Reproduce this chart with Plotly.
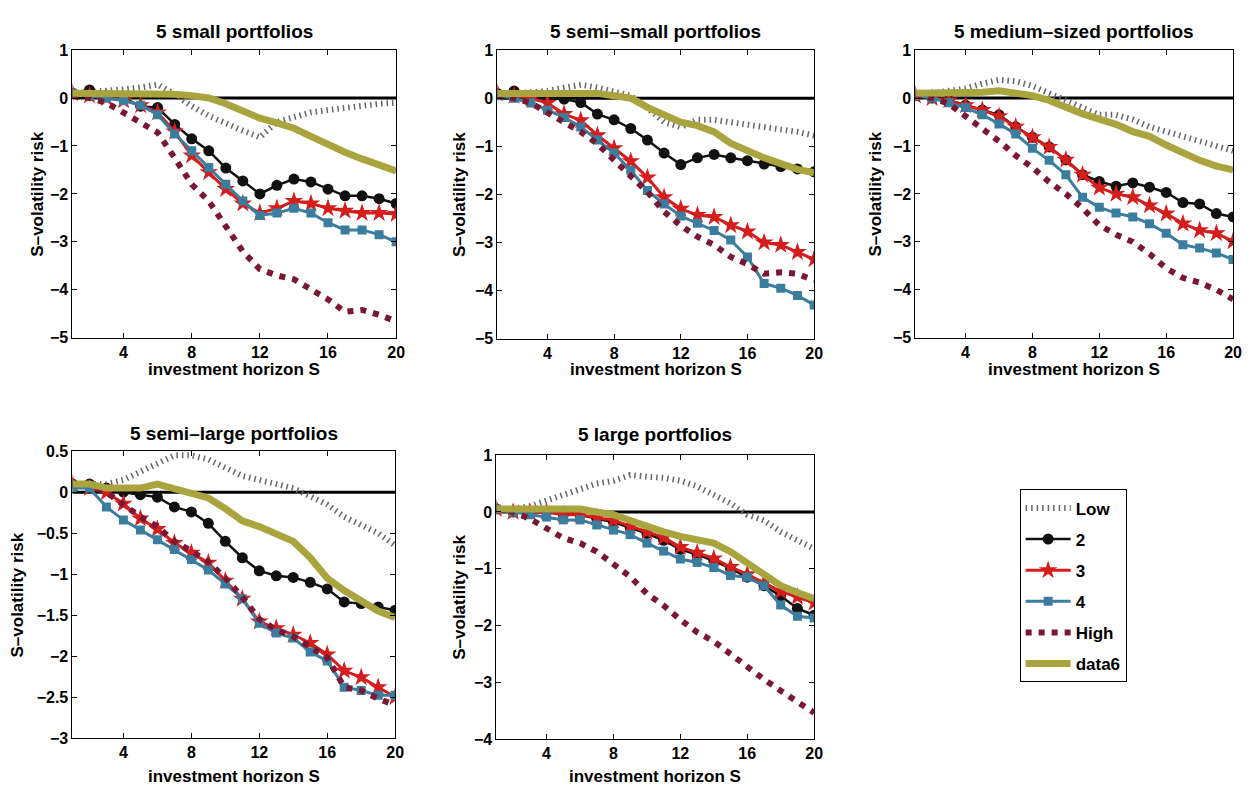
import plotly.graph_objects as go

# investment horizon S (x-axis)
horizon = list(range(1, 21))
x_ticks = [4, 8, 12, 16, 20]

series_names = ["Low", "2", "3", "4", "High", "data6"]

# ---- 5 small portfolios ----
small_low = [0.1, 0.12, 0.15, 0.18, 0.22, 0.28, 0.08, -0.17, -0.37, -0.54, -0.68, -0.82, -0.5, -0.4, -0.3, -0.25, -0.2, -0.15, -0.12, -0.1]
small_2 = [0.1, 0.17, 0.05, 0.0, -0.17, -0.2, -0.55, -0.85, -1.1, -1.46, -1.73, -2.0, -1.82, -1.69, -1.75, -1.9, -2.04, -2.04, -2.1, -2.2]
small_3 = [0.1, 0.05, 0.0, -0.05, -0.15, -0.3, -0.7, -1.2, -1.55, -1.9, -2.2, -2.4, -2.3, -2.15, -2.2, -2.3, -2.35, -2.4, -2.4, -2.42]
small_4 = [0.1, 0.05, 0.0, -0.05, -0.15, -0.35, -0.75, -1.1, -1.45, -1.8, -2.15, -2.45, -2.4, -2.3, -2.4, -2.6, -2.75, -2.75, -2.85, -3.0]
small_high = [0.05, 0.0, -0.1, -0.3, -0.5, -0.72, -1.25, -1.8, -2.15, -2.65, -3.2, -3.57, -3.7, -3.78, -3.98, -4.2, -4.46, -4.42, -4.52, -4.66]
small_d6 = [0.1, 0.1, 0.1, 0.1, 0.1, 0.1, 0.08, 0.05, 0.0, -0.12, -0.28, -0.42, -0.52, -0.63, -0.8, -0.98, -1.13, -1.27, -1.4, -1.52]

# ---- 5 semi-small portfolios ----
semismall_low = [0.1, 0.1, 0.12, 0.15, 0.22, 0.28, 0.22, 0.15, 0.05, -0.2, -0.5, -0.6, -0.45, -0.45, -0.5, -0.55, -0.6, -0.62, -0.7, -0.78]
semismall_2 = [0.1, 0.15, 0.05, 0.0, -0.02, -0.09, -0.33, -0.45, -0.63, -0.87, -1.14, -1.38, -1.24, -1.17, -1.24, -1.3, -1.37, -1.42, -1.47, -1.53]
semismall_3 = [0.1, 0.05, 0.0, -0.1, -0.33, -0.46, -0.77, -1.04, -1.31, -1.65, -2.06, -2.3, -2.43, -2.47, -2.64, -2.77, -3.0, -3.05, -3.2, -3.35]
semismall_4 = [0.05, 0.0, -0.1, -0.25, -0.4, -0.6, -0.87, -1.14, -1.5, -1.92, -2.2, -2.45, -2.6, -2.75, -2.95, -3.3, -3.85, -3.95, -4.1, -4.3]
semismall_high = [0.05, 0.0, -0.1, -0.3, -0.5, -0.7, -0.95, -1.3, -1.62, -1.95, -2.36, -2.65, -2.88, -3.05, -3.3, -3.45, -3.65, -3.62, -3.65, -3.79]
semismall_d6 = [0.1, 0.1, 0.1, 0.1, 0.1, 0.12, 0.1, 0.05, 0.0, -0.19, -0.35, -0.5, -0.57, -0.7, -0.94, -1.1, -1.24, -1.36, -1.48, -1.55]

# ---- 5 medium-sized portfolios ----
medium_low = [0.1, 0.1, 0.15, 0.2, 0.3, 0.38, 0.35, 0.25, 0.1, -0.05, -0.2, -0.35, -0.35, -0.45, -0.6, -0.7, -0.8, -0.9, -1.0, -1.1]
medium_2 = [0.05, 0.0, -0.05, -0.15, -0.25, -0.35, -0.6, -0.82, -1.02, -1.29, -1.6, -1.74, -1.84, -1.77, -1.86, -1.97, -2.18, -2.21, -2.41, -2.48]
medium_3 = [0.05, 0.0, -0.05, -0.15, -0.25, -0.38, -0.6, -0.82, -1.02, -1.29, -1.6, -1.87, -2.0, -2.07, -2.24, -2.41, -2.62, -2.76, -2.82, -2.99]
medium_4 = [0.05, 0.0, -0.1, -0.2, -0.35, -0.54, -0.75, -1.05, -1.3, -1.6, -2.07, -2.28, -2.4, -2.48, -2.62, -2.82, -3.06, -3.13, -3.23, -3.37]
medium_high = [0.05, 0.0, -0.12, -0.37, -0.65, -0.9, -1.2, -1.45, -1.75, -2.0, -2.3, -2.65, -2.85, -3.0, -3.25, -3.55, -3.75, -3.85, -4.0, -4.2]
medium_d6 = [0.1, 0.1, 0.1, 0.1, 0.12, 0.15, 0.1, 0.05, -0.05, -0.2, -0.33, -0.44, -0.55, -0.7, -0.8, -0.98, -1.15, -1.3, -1.42, -1.5]

# ---- 5 semi-large portfolios ----
semilarge_low = [0.1, 0.1, 0.1, 0.15, 0.25, 0.35, 0.45, 0.45, 0.4, 0.3, 0.2, 0.15, 0.1, 0.05, -0.05, -0.15, -0.3, -0.4, -0.5, -0.65]
semilarge_2 = [0.1, 0.1, 0.05, 0.0, -0.03, -0.06, -0.18, -0.24, -0.38, -0.6, -0.8, -0.96, -1.02, -1.04, -1.1, -1.18, -1.34, -1.36, -1.4, -1.44]
semilarge_3 = [0.1, 0.05, 0.0, -0.14, -0.32, -0.45, -0.62, -0.74, -0.86, -1.08, -1.3, -1.58, -1.66, -1.74, -1.84, -1.98, -2.18, -2.26, -2.38, -2.5]
semilarge_4 = [0.05, 0.05, -0.18, -0.34, -0.46, -0.58, -0.7, -0.82, -0.95, -1.12, -1.3, -1.6, -1.72, -1.78, -1.95, -2.06, -2.38, -2.42, -2.48, -2.48]
semilarge_high = [0.1, 0.1, 0.0, -0.15, -0.3, -0.42, -0.6, -0.72, -0.85, -1.05, -1.28, -1.55, -1.68, -1.76, -1.88, -2.02, -2.38, -2.42, -2.52, -2.6]
semilarge_d6 = [0.1, 0.1, 0.05, 0.05, 0.05, 0.1, 0.05, 0.0, -0.07, -0.2, -0.35, -0.42, -0.5, -0.6, -0.8, -1.05, -1.2, -1.33, -1.45, -1.53]

# ---- 5 large portfolios ----
large_low = [0.05, 0.05, 0.1, 0.2, 0.3, 0.4, 0.5, 0.55, 0.65, 0.62, 0.6, 0.55, 0.45, 0.3, 0.15, -0.05, -0.15, -0.35, -0.5, -0.65]
large_2 = [0.05, 0.0, 0.0, 0.0, -0.05, -0.05, -0.12, -0.18, -0.28, -0.38, -0.5, -0.66, -0.75, -0.86, -1.0, -1.15, -1.3, -1.48, -1.7, -1.82]
large_3 = [0.05, 0.0, 0.0, 0.0, -0.05, -0.05, -0.1, -0.15, -0.25, -0.35, -0.45, -0.62, -0.72, -0.82, -0.97, -1.1, -1.25, -1.4, -1.5, -1.6]
large_4 = [0.05, 0.0, -0.05, -0.09, -0.14, -0.14, -0.23, -0.32, -0.4, -0.55, -0.69, -0.83, -0.89, -0.98, -1.12, -1.15, -1.3, -1.64, -1.84, -1.87]
large_high = [0.05, 0.0, -0.12, -0.29, -0.46, -0.55, -0.7, -0.92, -1.14, -1.44, -1.65, -1.9, -2.12, -2.28, -2.5, -2.75, -2.95, -3.15, -3.33, -3.54]
large_d6 = [0.05, 0.05, 0.05, 0.05, 0.05, 0.05, 0.0, -0.05, -0.15, -0.26, -0.35, -0.43, -0.5, -0.55, -0.7, -0.9, -1.1, -1.3, -1.42, -1.53]

# reference level
zero_level = [0] * len(horizon)

panel_titles = ["5 small portfolios", "5 semi–small portfolios", "5 medium–sized portfolios",
                "5 semi–large portfolios", "5 large portfolios"]
panel_series = [
    [small_low, small_2, small_3, small_4, small_high, small_d6],
    [semismall_low, semismall_2, semismall_3, semismall_4, semismall_high, semismall_d6],
    [medium_low, medium_2, medium_3, medium_4, medium_high, medium_d6],
    [semilarge_low, semilarge_2, semilarge_3, semilarge_4, semilarge_high, semilarge_d6],
    [large_low, large_2, large_3, large_4, large_high, large_d6],
]
panel_yranges = [[-5, 1], [-5, 1], [-5, 1], [-3, 0.5], [-4, 1]]
panel_yticks = [
    [-5, -4, -3, -2, -1, 0, 1],
    [-5, -4, -3, -2, -1, 0, 1],
    [-5, -4, -3, -2, -1, 0, 1],
    [-3, -2.5, -2, -1.5, -1, -0.5, 0, 0.5],
    [-4, -3, -2, -1, 0, 1],
]

# ---- layout geometry (pixels in a 1255 x 791 page) ----
W, H = 1255, 791
# left, right, top, bottom of each plot box
boxes = [(73, 399, 43, 337), (501, 820, 43, 338), (922, 1242, 43, 337),
         (73, 398, 453, 746), (500, 820, 457, 747)]
ytitle_x = [38, 463, 882, 18, 462]
title_y = [24, 24, 24, 435, 436]
xtitle_y = [369, 369, 369, 785, 785]

FONT = "Liberation Sans, Arial, Helvetica, sans-serif"

styles = [
    dict(mode="lines", line=dict(color="#66666e", width=6, dash="1.5px,4px")),
    dict(mode="lines+markers", line=dict(color="#111111", width=2.5),
         marker=dict(symbol="circle", size=11, color="#111111")),
    dict(mode="lines+markers", line=dict(color="#d41e1e", width=3),
         marker=dict(symbol="star", size=14, color="#d41e1e")),
    dict(mode="lines+markers", line=dict(color="#3b7d9e", width=3),
         marker=dict(symbol="square", size=9, color="#3b7d9e")),
    dict(mode="lines", line=dict(color="#7a1733", width=6, dash="6px,7px")),
    dict(mode="lines", line=dict(color="#aaa43e", width=7)),
]

fig = go.Figure()
annotations = []
layout_axes = {}

for i in range(5):
    ax = "" if i == 0 else str(i + 1)
    xref, yref = "x" + ax, "y" + ax
    l, r, t, b = boxes[i]

    fig.add_trace(go.Scatter(x=horizon, y=zero_level, mode="lines",
                             line=dict(color="black", width=3),
                             showlegend=False, hoverinfo="skip",
                             xaxis=xref, yaxis=yref))
    for k, name in enumerate(series_names):
        fig.add_trace(go.Scatter(x=horizon, y=panel_series[i][k], name=name,
                                 legendgroup=name, showlegend=(i == 0),
                                 xaxis=xref, yaxis=yref, **styles[k]))

    common = dict(showline=True, linecolor="black", linewidth=1, mirror="ticks",
                  ticks="inside", ticklen=5, tickcolor="black",
                  showgrid=False, zeroline=False,
                  tickfont=dict(family=FONT, size=16, color="black", weight="bold"))
    layout_axes["xaxis" + ax] = dict(domain=[l / W, r / W], range=[1, 20],
                                     tickmode="array", tickvals=x_ticks,
                                     anchor=yref, **common)
    layout_axes["yaxis" + ax] = dict(domain=[1 - b / H, 1 - t / H],
                                     range=panel_yranges[i], tickmode="array",
                                     tickvals=panel_yticks[i], anchor=xref, **common)

    cx = (l + r) / 2 / W
    annotations.append(dict(text=panel_titles[i], x=cx, y=1 - title_y[i] / H,
                            xref="paper", yref="paper", showarrow=False,
                            xanchor="center", yanchor="middle",
                            font=dict(family=FONT, size=19, color="black", weight="bold")))
    annotations.append(dict(text="investment horizon S", x=cx, y=1 - xtitle_y[i] / H,
                            xref="paper", yref="paper", showarrow=False,
                            xanchor="center", yanchor="middle",
                            font=dict(family=FONT, size=17, color="black", weight="bold")))
    annotations.append(dict(text="S–volatility risk", x=ytitle_x[i] / W,
                            y=1 - (t + b) / 2 / H, textangle=-90,
                            xref="paper", yref="paper", showarrow=False,
                            xanchor="center", yanchor="middle",
                            font=dict(family=FONT, size=17, color="black", weight="bold")))

fig.update_layout(
    width=W, height=H,
    margin=dict(l=0, r=0, t=0, b=0),
    paper_bgcolor="white", plot_bgcolor="white",
    annotations=annotations,
    legend=dict(x=1027 / W, y=1 - 492 / H, xanchor="left", yanchor="top",
                bordercolor="black", borderwidth=1, bgcolor="white",
                tracegroupgap=6, itemwidth=45,
                font=dict(family=FONT, size=17, color="black", weight="bold")),
    **layout_axes,
)

fig.write_html("out.html")
